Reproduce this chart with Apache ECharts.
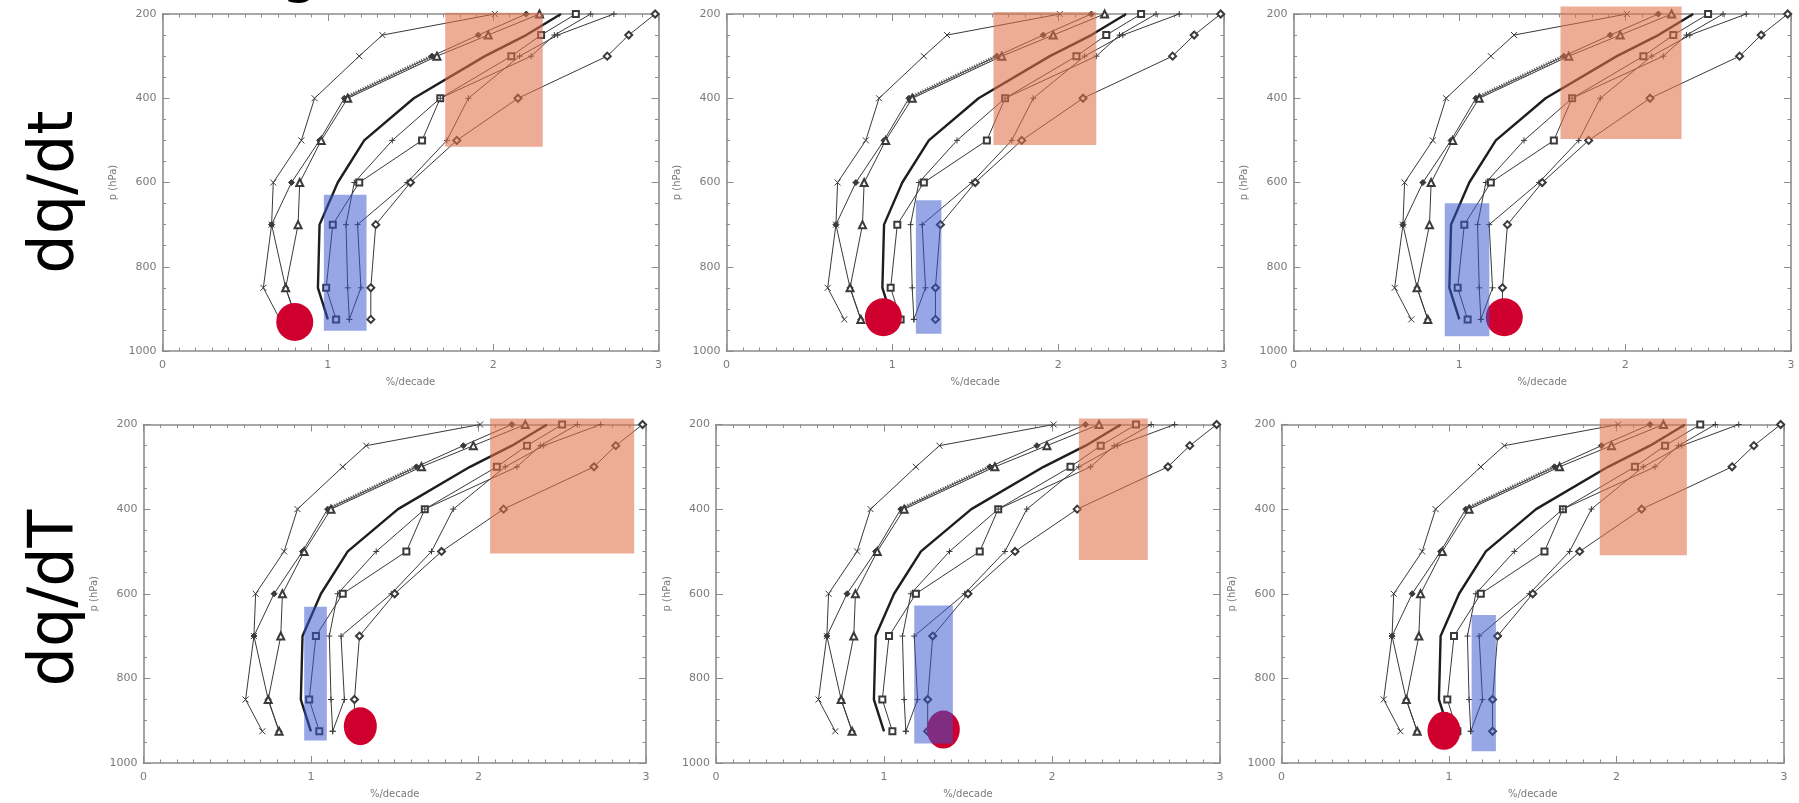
<!DOCTYPE html>
<html>
<head>
<meta charset="utf-8">
<script src="https://cdn.jsdelivr.net/npm/echarts@6/dist/echarts.min.js"></script>
<style>
html,body{margin:0;padding:0;background:#fff;}
#c{width:1799px;height:803px;}
</style>
</head>
<body>
<div id="c"></div>
<script>
// pressure levels (hPa)
const levels = [200, 250, 300, 400, 500, 600, 700, 850, 925];
// trend profiles (%/decade)
const crossLine   = [2.01, 1.33, 1.19, 0.92, 0.84, 0.67, 0.66, 0.61, 0.71];
const filledLine  = [2.20, 1.91, 1.63, 1.10, 0.95, 0.78, 0.66, 0.745, 0.81];
const triLine     = [2.28, 1.97, 1.66, 1.12, 0.96, 0.83, 0.82, 0.745, 0.81];
const thickLine   = [2.41, 2.20, 1.95, 1.52, 1.22, 1.06, 0.95, 0.94, 1.00];
const squareLine  = [2.50, 2.29, 2.11, 1.68, 1.57, 1.19, 1.03, 0.99, 1.05];
const plusLine    = [2.59, 2.37, 2.23, 1.68, 1.39, 1.16, 1.11, 1.12, 1.13];
const plus2Line   = [2.73, 2.39, 2.16, 1.85, 1.72, 1.48, 1.18, 1.20, 1.13];
const diamondLine = [2.98, 2.82, 2.69, 2.15, 1.78, 1.50, 1.29, 1.26, 1.26];
const ladderLevels = [400, 300];
const ladderValues = [1.10, 1.63];

// axis ticks
const xTicks = [0, 1, 2, 3];
const yTicks = [200, 400, 600, 800, 1000];

// per-panel overlays: TL, TM, TR, BL, BM, BR
const orangeX0 = [1.71, 1.61, 1.61, 2.07, 2.16, 1.90];
const orangeX1 = [2.30, 2.23, 2.34, 2.93, 2.57, 2.42];
const orangeP0 = [197, 195, 182, 186, 186, 186];
const orangeP1 = [515, 511, 497, 505, 520, 509];
const blueX0 = [0.976, 1.142, 0.912, 0.96, 1.18, 1.135];
const blueX1 = [1.234, 1.296, 1.181, 1.095, 1.41, 1.28];
const blueP0 = [629, 642, 649, 631, 628, 650];
const blueP1 = [952, 959, 965, 947, 954, 972];
const redX = [0.80, 0.946, 1.271, 1.295, 1.353, 0.97];
const redP = [931, 920, 920, 913, 921, 924];

const rowLabels = ['dq/dt', 'dq/dT'];

// layout (pixels)
const grids = [
  {left: 162.5, top: 14, width: 496, height: 337},
  {left: 726.5, top: 14, width: 497.5, height: 337},
  {left: 1293.5, top: 14, width: 497.5, height: 337},
  {left: 143.4, top: 424.5, width: 502.5, height: 338.5},
  {left: 716, top: 424.5, width: 504, height: 338.5},
  {left: 1281.5, top: 424.5, width: 502.5, height: 338.5}
];
const redSize = [[37, 38], [37, 38], [37, 38], [33, 38], [33, 38], [33, 38]];

const FRAME = '#8c8c8c';
const LINE = '#3a3a3a';
const CROSS = 'path://M0,0L10,10M10,0L0,10';
const PLUS = 'path://M5,0L5,10M0,5L10,5';

const xAxis = [], yAxis = [], series = [];

function mkX(i, pos) {
  const main = pos === 'bottom';
  return {
    gridIndex: i, type: 'value', min: xTicks[0], max: xTicks[xTicks.length - 1], interval: 1,
    position: pos,
    axisLine: {onZero: false, lineStyle: {color: FRAME, width: 1.6}},
    axisTick: {inside: true, length: 7, lineStyle: {color: FRAME, width: 1}},
    minorTick: {show: true, splitNumber: 10, length: 3.5, lineStyle: {color: FRAME, width: 1}},
    splitLine: {show: false},
    axisLabel: {show: main, color: '#7a7a7a', fontSize: 11, margin: 9, fontFamily: 'DejaVu Sans',
                formatter: v => String(v)},
    name: main ? '%/decade' : '', nameLocation: 'middle', nameGap: 26,
    nameTextStyle: {color: '#7a7a7a', fontSize: 10, fontFamily: 'DejaVu Sans'}
  };
}
function mkY(i, pos) {
  const main = pos === 'left';
  return {
    gridIndex: i, type: 'value', min: yTicks[0], max: yTicks[yTicks.length - 1], interval: 200,
    inverse: true, position: pos,
    axisLine: {onZero: false, lineStyle: {color: FRAME, width: 1.6}},
    axisTick: {inside: true, length: 7, lineStyle: {color: FRAME, width: 1}},
    minorTick: {show: true, splitNumber: 4, length: 3.5, lineStyle: {color: FRAME, width: 1}},
    splitLine: {show: false},
    axisLabel: {show: main, color: '#7a7a7a', fontSize: 11, margin: 6, fontFamily: 'DejaVu Sans',
                formatter: v => String(v)},
    name: main ? 'p (hPa)' : '', nameLocation: 'middle', nameGap: 44,
    nameTextStyle: {color: '#7a7a7a', fontSize: 10, fontFamily: 'DejaVu Sans'}
  };
}

const profiles = [
  {vals: crossLine, symbol: CROSS, size: 6, width: 1, color: LINE},
  {vals: filledLine, symbol: 'diamond', size: 6, width: 1, color: LINE},
  {vals: triLine, symbol: 'emptyTriangle', size: 7, width: 1, color: LINE},
  {vals: thickLine, symbol: 'none', size: 0, width: 2.4, color: '#1e1e1e'},
  {vals: squareLine, symbol: 'emptyRect', size: 6, width: 1, color: LINE},
  {vals: plusLine, symbol: PLUS, size: 6, width: 1, color: LINE},
  {vals: plus2Line, symbol: PLUS, size: 6, width: 1, color: LINE},
  {vals: diamondLine, symbol: 'emptyDiamond', size: 7, width: 1, color: LINE}
];

function rectItem(colorFill) {
  return function (params, api) {
    const a = api.coord([api.value(0), api.value(2)]);
    const b = api.coord([api.value(1), api.value(3)]);
    return {
      type: 'rect',
      shape: {x: Math.min(a[0], b[0]), y: Math.min(a[1], b[1]),
              width: Math.abs(b[0] - a[0]), height: Math.abs(b[1] - a[1])},
      style: {fill: colorFill}
    };
  };
}

for (let i = 0; i < 6; i++) {
  xAxis.push(mkX(i, 'bottom'));
  xAxis.push(mkX(i, 'top'));
  yAxis.push(mkY(i, 'left'));
  yAxis.push(mkY(i, 'right'));
  const xi = 2 * i, yi = 2 * i;
  profiles.forEach(pr => {
    series.push({
      type: 'line', xAxisIndex: xi, yAxisIndex: yi, z: 2,
      data: levels.map((p, k) => [pr.vals[k], p]),
      symbol: pr.symbol, symbolSize: pr.size, showSymbol: pr.symbol !== 'none',
      lineStyle: {color: pr.color, width: pr.width},
      itemStyle: {color: pr.color, borderColor: pr.color, borderWidth: 1},
      animation: false, silent: true
    });
  });
  series.push({
    type: 'line', xAxisIndex: xi, yAxisIndex: yi, z: 2,
    data: ladderLevels.map((p, k) => [ladderValues[k], p]),
    symbol: 'none',
    lineStyle: {color: '#555', width: 4, type: [1, 1.6]},
    animation: false, silent: true
  });
  series.push({
    type: 'scatter', xAxisIndex: xi, yAxisIndex: yi, z: 3,
    data: [[redX[i], redP[i]]], symbol: 'circle', symbolSize: redSize[i],
    itemStyle: {color: '#D0002E', opacity: 1}, animation: false, silent: true
  });
  series.push({
    type: 'custom', xAxisIndex: xi, yAxisIndex: yi, z: 4, clip: false,
    data: [[orangeX0[i], orangeX1[i], orangeP0[i], orangeP1[i]]],
    encode: {x: [0, 1], y: [2, 3]},
    renderItem: rectItem('rgba(222,112,72,0.58)'), animation: false, silent: true
  });
  series.push({
    type: 'custom', xAxisIndex: xi, yAxisIndex: yi, z: 4, clip: false,
    data: [[blueX0[i], blueX1[i], blueP0[i], blueP1[i]]],
    encode: {x: [0, 1], y: [2, 3]},
    renderItem: rectItem('rgba(55,85,205,0.52)'), animation: false, silent: true
  });
}

const chart = echarts.init(document.getElementById('c'), null, {renderer: 'canvas'});
chart.setOption({
  backgroundColor: '#ffffff',
  animation: false,
  grid: grids,
  xAxis: xAxis,
  yAxis: yAxis,
  series: series,
  graphic: [
    {type: 'text', x: 56, y: 192, rotation: Math.PI / 2,
     style: {text: rowLabels[0], font: '62px "DejaVu Sans"', fill: '#000', textAlign: 'center', textVerticalAlign: 'middle'}},
    {type: 'text', x: 56, y: 598, rotation: Math.PI / 2,
     style: {text: rowLabels[1], font: '62px "DejaVu Sans"', fill: '#000', textAlign: 'center', textVerticalAlign: 'middle'}},
    {type: 'text', x: 300, y: -26,
     style: {text: 'g', font: '60px "DejaVu Sans"', fill: '#000', textAlign: 'center', textVerticalAlign: 'middle'}}
  ]
});
</script>
</body>
</html>
